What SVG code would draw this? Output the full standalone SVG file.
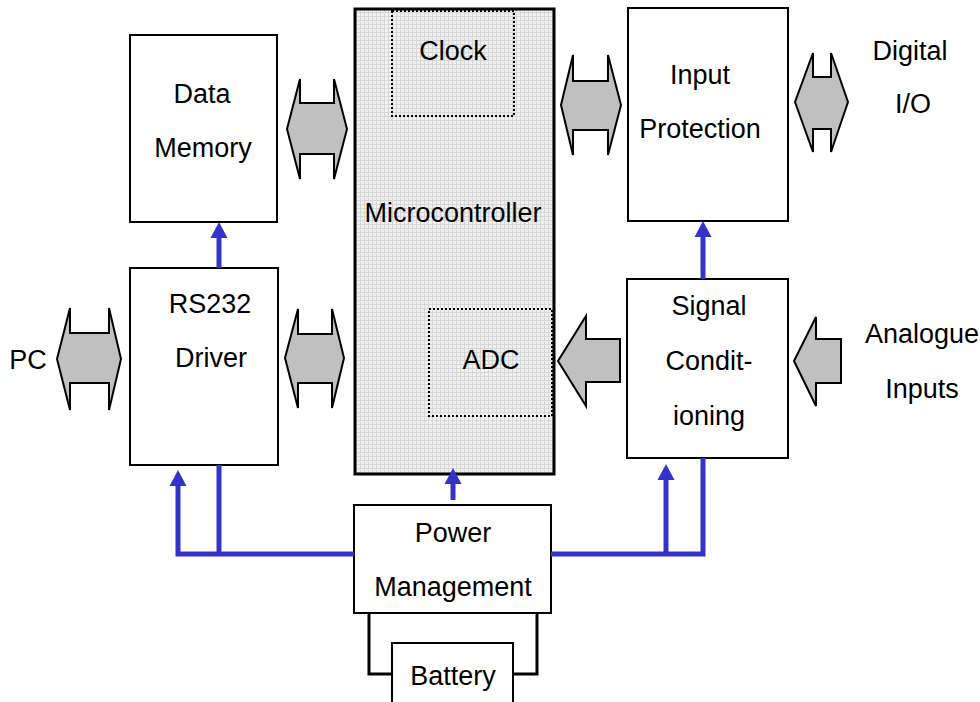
<svg xmlns="http://www.w3.org/2000/svg" width="980" height="702" viewBox="0 0 980 702">
<defs>
<pattern id="grid" width="4" height="4" patternUnits="userSpaceOnUse">
<rect width="4" height="4" fill="#f0f0f0"/>
<path d="M0 0.5H4M0.5 0V4" stroke="#d6d6d6" stroke-width="1"/>
</pattern>
</defs>
<style>
.box{fill:#fff;stroke:#000;stroke-width:2}
.dot{fill:none;stroke:#000;stroke-width:2;stroke-dasharray:2 2}
.big{fill:#c0c0c0;stroke:#000;stroke-width:2;stroke-linejoin:miter}
.t{font-family:"Liberation Sans",Arial,sans-serif;font-size:27px;fill:#000;text-anchor:middle}
.blue{fill:none;stroke:#3333cc;stroke-width:5}
.head{fill:#3333cc}
.wire{fill:none;stroke:#000;stroke-width:3}
</style>
<rect width="980" height="702" fill="#fff"/>

<g id="microcontroller">
<rect x="355" y="9" width="199" height="465" fill="url(#grid)" stroke="#000" stroke-width="3"/>
<text class="t" x="453" y="222">Microcontroller</text>
</g>
<g id="clock">
<rect class="dot" x="392" y="11" width="122" height="105"/>
<text class="t" x="453" y="60">Clock</text>
</g>
<g id="adc">
<rect class="dot" x="429" y="309" width="123" height="107"/>
<text class="t" x="491" y="369">ADC</text>
</g>
<g id="data-memory">
<rect class="box" x="130" y="35" width="147" height="187"/>
<text class="t" x="202" y="103">Data</text>
<text class="t" x="203" y="157">Memory</text>
</g>
<g id="rs232">
<rect class="box" x="130" y="268" width="148" height="197"/>
<text class="t" x="210" y="313">RS232</text>
<text class="t" x="211" y="367">Driver</text>
</g>
<g id="input-protection">
<rect class="box" x="628" y="8" width="160" height="213"/>
<text class="t" x="700" y="84">Input</text>
<text class="t" x="700" y="138">Protection</text>
</g>
<g id="signal-conditioning">
<rect class="box" x="627" y="279" width="161" height="179"/>
<text class="t" x="709" y="315">Signal</text>
<text class="t" x="709" y="370">Condit-</text>
<text class="t" x="709" y="425">ioning</text>
</g>
<g id="power-management">
<rect class="box" x="354" y="505" width="197" height="108"/>
<text class="t" x="453" y="542">Power</text>
<text class="t" x="453" y="596">Management</text>
</g>
<g id="battery">
<rect class="box" x="392" y="643" width="121" height="70"/>
<text class="t" x="453" y="685">Battery</text>
</g>
<g id="labels">
<text class="t" x="28" y="369">PC</text>
<text class="t" x="910" y="60">Digital</text>
<text class="t" x="913" y="113">I/O</text>
<text class="t" x="922" y="343">Analogue</text>
<text class="t" x="922" y="398">Inputs</text>
</g>

<g id="connectors">
<path class="big" d="M300 79V103H334V79L347 129L334 179V154H300V179L287 129Z"/>
<path class="big" d="M573 55V81H608V55L621 105L608 155V130H573V155L561 105Z"/>
<path class="big" d="M813 53V77H831V53L848 102L831 152V129H813V152L795 102Z"/>
<path class="big" d="M70 308V333H109V308L121 359L109 410V383H70V410L57 359Z"/>
<path class="big" d="M298 309V334H332V309L344 358L332 408V383H298V408L285 358Z"/>
<path class="big" d="M558 361L586 316V339H620V382H586V406Z"/>
<path class="big" d="M794 361L816 317V339H841V383H816V406Z"/>

<path class="blue" d="M219 268V236"/>
<polygon class="head" points="219,222 227.5,238 210.5,238"/>
<path class="blue" d="M703 279V235"/>
<polygon class="head" points="703,221 711.5,237 694.5,237"/>
<path class="blue" d="M354 554H178V484"/>
<polygon class="head" points="178,470 186.5,486 169.5,486"/>
<path class="blue" d="M219 465V554"/>
<path class="blue" d="M453 500V482"/>
<polygon class="head" points="453,468 461.5,484 444.5,484"/>
<path class="blue" d="M551 554H703V458"/>
<path class="blue" d="M666 554V478"/>
<polygon class="head" points="666,464 674.5,480 657.5,480"/>

<path class="wire" d="M369 613V674H392"/>
<path class="wire" d="M537 613V674H513"/>
</g>
</svg>
